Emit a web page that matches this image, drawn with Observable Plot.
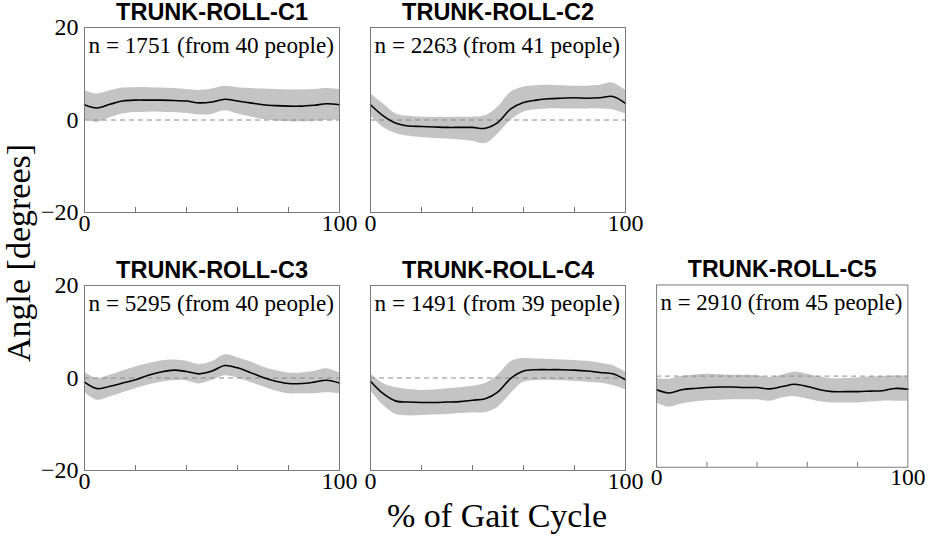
<!DOCTYPE html>
<html>
<head>
<meta charset="utf-8">
<script src="https://cdn.jsdelivr.net/npm/d3@7"></script>
<script src="https://cdn.jsdelivr.net/npm/@observablehq/plot@0.6"></script>
<style>
  html, body { margin: 0; padding: 0; background: #fff; }
  #wrap { position: relative; width: 932px; height: 539px; overflow: hidden; background: #fff; }
  .panel { position: absolute; }
  .lab { position: absolute; font-family: "Liberation Serif", "Times New Roman", serif; color: #000; white-space: nowrap; }
</style>
</head>
<body>
<div id="wrap"></div>
<script>
// ---- data ----
const gait = [0,5,10,15,20,25,30,35,40,45,50,55,60,65,70,75,80,85,90,95,100];

const titles = ["TRUNK-ROLL-C1","TRUNK-ROLL-C2","TRUNK-ROLL-C3","TRUNK-ROLL-C4","TRUNK-ROLL-C5"];
const notes = ["n = 1751 (from 40 people)","n = 2263 (from 41 people)","n = 5295 (from 40 people)","n = 1491 (from 39 people)","n = 2910 (from 45 people)"];

const c1Mean = [3.3,2.6,3.4,4.1,4.3,4.3,4.3,4.2,4.1,3.7,3.9,4.5,4.1,3.7,3.3,3.1,3.0,3.0,3.2,3.5,3.3];
const c1Hi   = [6.4,5.6,6.3,6.9,7.0,7.0,6.9,6.8,6.6,6.4,6.7,7.3,7.0,6.8,6.7,6.6,6.5,6.5,6.6,6.8,6.6];
const c1Lo   = [0.1,-0.5,0.5,1.3,1.6,1.7,1.7,1.6,1.4,1.1,1.2,2.0,1.3,0.7,0.1,-0.2,-0.4,-0.4,-0.3,-0.1,0.0];

const c2Mean = [3.3,0.9,-0.7,-1.3,-1.4,-1.5,-1.6,-1.6,-1.6,-1.8,-0.5,2.4,3.8,4.3,4.6,4.7,4.8,4.7,4.8,5.1,3.6];
const c2Hi   = [5.7,3.5,1.3,0.8,0.6,0.6,0.6,0.6,0.6,0.9,2.8,6.0,7.1,7.4,7.5,7.4,7.3,7.3,7.5,8.0,6.4];
const c2Lo   = [0.9,-1.6,-2.9,-3.5,-3.8,-4.0,-4.1,-4.3,-4.6,-5.1,-3.0,-0.1,1.7,2.2,2.4,2.4,2.4,2.4,2.4,2.2,1.3];

const c3Mean = [-0.9,-2.3,-1.8,-1.1,-0.4,0.6,1.3,1.7,1.4,0.9,1.5,2.7,2.2,1.2,0.1,-0.7,-1.2,-1.2,-0.9,-0.5,-1.1];
const c3Hi   = [1.3,-0.1,0.6,1.5,2.4,3.1,3.7,3.9,3.6,2.9,3.5,5.0,4.4,3.5,2.4,1.6,1.1,1.1,1.4,2.0,1.1];
const c3Lo   = [-3.0,-4.8,-4.1,-3.2,-2.3,-1.5,-0.9,-0.6,-0.6,-1.3,-0.5,0.5,0.0,-0.9,-1.9,-2.8,-3.4,-3.4,-3.4,-3.2,-3.4];

const c4Mean = [-0.7,-3.4,-5.0,-5.2,-5.3,-5.3,-5.2,-5.1,-4.8,-4.5,-3.0,-0.1,1.5,1.8,1.8,1.8,1.7,1.5,1.2,0.9,-0.4];
const c4Hi   = [0.9,-1.2,-2.1,-2.5,-2.7,-2.6,-2.3,-2.1,-1.8,-1.2,0.6,3.5,4.2,4.1,4.0,3.9,3.8,3.6,3.2,2.7,1.3];
const c4Lo   = [-2.7,-5.9,-7.9,-8.2,-8.1,-8.0,-7.9,-7.7,-7.5,-7.5,-6.3,-3.4,-0.9,-0.6,-0.5,-0.6,-0.7,-0.9,-1.1,-1.6,-2.5];

const c5Mean = [-3.0,-3.7,-3.0,-2.7,-2.5,-2.4,-2.4,-2.5,-2.5,-2.8,-2.3,-1.8,-2.3,-3.0,-3.4,-3.4,-3.4,-3.3,-3.2,-2.7,-2.9];
const c5Hi   = [-0.5,-0.7,-0.1,0.2,0.4,0.3,0.2,0.2,0.1,-0.3,0.2,0.9,0.4,-0.2,-0.6,-0.5,-0.4,-0.2,-0.1,0.0,0.0];
const c5Lo   = [-5.9,-6.8,-6.1,-5.7,-5.4,-5.3,-5.2,-5.2,-5.2,-5.5,-4.8,-4.5,-5.0,-5.6,-5.9,-5.9,-5.9,-5.7,-5.5,-5.5,-5.5];

const xTickLabels = [0, 100];
const xMinorTicks = [20, 40, 60, 80];
const yTickLabels = [-20, 0, 20];
const xDomain = [0, 100];
const yDomain = [-20, 20];

// ---- layout ----
const series = [
  {mean: c1Mean, hi: c1Hi, lo: c1Lo},
  {mean: c2Mean, hi: c2Hi, lo: c2Lo},
  {mean: c3Mean, hi: c3Hi, lo: c3Lo},
  {mean: c4Mean, hi: c4Hi, lo: c4Lo},
  {mean: c5Mean, hi: c5Hi, lo: c5Lo}
];
const layout = [
  {left: 84,  top: 27,  yLabels: true},
  {left: 370, top: 27,  yLabels: false},
  {left: 84,  top: 285, yLabels: true},
  {left: 370, top: 285, yLabels: false},
  {left: 657, top: 285, yLabels: false}
];
const PW = 255, PH = 185, ML = 60, MR = 25, MT = 35, MB = 30;
const fmt = d => (d < 0 ? "\u2212" + (-d) : String(d));

const wrap = document.getElementById("wrap");

series.forEach((s, i) => {
  const rows = gait.map((g, j) => ({g, mean: s.mean[j], hi: s.hi[j], lo: s.lo[j]}));
  const L = layout[i];
  const marks = [
    Plot.areaY(rows, {x: "g", y1: "lo", y2: "hi", fill: "#c4c4c4", curve: "catmull-rom"}),
    Plot.ruleY([0], {stroke: "#8a8a8a", strokeWidth: 1, strokeDasharray: "5,4"}),
    Plot.lineY(rows, {x: "g", y: "mean", stroke: "#000", strokeWidth: 1.6, curve: "catmull-rom"}),
    Plot.ruleX(xMinorTicks, {stroke: "#777", strokeWidth: 1, insetTop: PH - 5}),
    Plot.frame({stroke: "#7a7a7a", strokeWidth: 1}),
    Plot.text(xTickLabels, {x: d => d, text: fmt, frameAnchor: "bottom", lineAnchor: "top", dy: 1,
      fontSize: 24, fill: "#000"}),
    Plot.text([titles[i]], {text: d => d, frameAnchor: "top", dy: -8, lineAnchor: "bottom",
      fontFamily: "Liberation Sans, Arial, sans-serif", fontWeight: "bold", fontSize: 23.5, fill: "#000"}),
    Plot.text([notes[i]], {text: d => d, frameAnchor: "top-left", textAnchor: "start", dx: 4, dy: 9, lineAnchor: "top",
      fontSize: 23.2, fill: "#000"})
  ];
  if (L.yLabels) marks.push(Plot.text(yTickLabels, {y: d => d, text: fmt, frameAnchor: "left", textAnchor: "end",
    dx: -6, fontSize: 24, fill: "#000"}));
  const chart = Plot.plot({
    width: ML + PW + MR,
    height: MT + PH + MB,
    marginLeft: ML, marginRight: MR, marginTop: MT, marginBottom: MB,
    x: {domain: xDomain, label: null, axis: null},
    y: {domain: yDomain, label: null, axis: null},
    style: {fontFamily: "Liberation Serif, Times New Roman, serif", fontSize: "24px", background: "transparent", overflow: "visible", color: "#000"},
    marks
  });
  const div = document.createElement("div");
  div.className = "panel";
  div.style.left = (L.left - ML) + "px";
  div.style.top = (L.top - MT) + "px";
  div.appendChild(chart);
  wrap.appendChild(div);
});

// axis titles
const xt = document.createElement("div");
xt.className = "lab";
xt.textContent = "% of Gait Cycle";
xt.style.fontSize = "34px";
xt.style.left = "0px";
xt.style.width = "994px";
xt.style.textAlign = "center";
xt.style.top = "496px";
xt.style.lineHeight = "40px";
wrap.appendChild(xt);

const yt = document.createElement("div");
yt.className = "lab";
yt.textContent = "Angle [degrees]";
yt.style.fontSize = "34px";
yt.style.lineHeight = "36px";
yt.style.height = "36px";
yt.style.width = "300px";
yt.style.textAlign = "center";
yt.style.left = "-131px";
yt.style.top = "235px";
yt.style.transform = "rotate(-90deg)";
wrap.appendChild(yt);
</script>
</body>
</html>
